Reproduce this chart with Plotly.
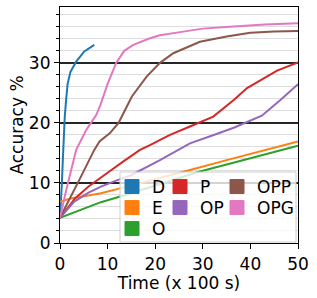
import plotly.graph_objects as go

# ---- data (time in x100 s, accuracy in %) ----
names = ["D", "E", "O", "P", "OP", "OPP", "OPG"]
colors = ["#1f77b4", "#ff7f0e", "#2ca02c", "#d62728", "#9467bd", "#8c564b", "#e377c2"]

D_t = [0, 0.2, 0.4, 0.6, 0.8, 1.0, 1.3, 1.6, 2.2, 3.4, 5.1, 7.2]
D_y = [4.2, 6.5, 10.0, 14.0, 18.0, 21.0, 24.0, 26.5, 28.5, 30.2, 31.9, 33.0]

E_t = [0, 2.45, 6, 8.6, 12.6, 20, 27.3, 35, 42, 50]
E_y = [6.9, 7.45, 7.9, 8.3, 9.1, 10.6, 12.17, 13.8, 15.3, 16.9]

O_t = [0, 6, 8.6, 13.7, 20, 29.4, 40, 50]
O_y = [4.2, 6.05, 6.8, 8.0, 9.6, 11.9, 14.1, 16.2]

P_t = [0, 3.15, 6, 8, 10.5, 13.7, 16.8, 18.9, 23.1, 27.3, 32.2, 36.5, 39.3, 45.6, 50]
P_y = [4.2, 7.4, 9.4, 10.6, 12.0, 13.8, 15.5, 16.3, 18.0, 19.4, 21.05, 23.8, 25.8, 28.7, 30.05]

OP_t = [0, 3, 6, 8.6, 11.5, 14.7, 21, 27.3, 32, 36.5, 42.4, 46.3, 50]
OP_y = [4.2, 6.9, 8.4, 9.4, 10.3, 11.2, 13.8, 16.6, 17.9, 19.2, 21.2, 23.8, 26.45]

OPP_t = [0, 2.0, 4.4, 7.2, 8.3, 10.5, 12.3, 13.7, 15.1, 18.2, 21, 23.8, 29.4, 35, 40, 45, 50]
OPP_y = [4.2, 7.2, 11.05, 15.5, 16.9, 18.3, 20.0, 22.2, 24.4, 27.7, 30.0, 31.6, 33.5, 34.4, 35.0, 35.2, 35.3]

OPG_t = [0, 1.3, 3.4, 5.5, 7.6, 8.5, 10, 11.8, 13.5, 15.4, 18.9, 21, 25.9, 30, 36.5, 43, 50]
OPG_y = [4.2, 8.8, 15.5, 18.8, 21.3, 23.0, 26.5, 30.0, 32.0, 33.0, 34.1, 34.6, 35.2, 35.7, 36.05, 36.4, 36.6]

series_t = [D_t, E_t, O_t, P_t, OP_t, OPP_t, OPG_t]
series_y = [D_y, E_y, O_y, P_y, OP_y, OPP_y, OPG_y]

x_ticks = [0, 10, 20, 30, 40, 50]
y_ticks = [0, 10, 20, 30]

FONT = "DejaVu Sans"
fig = go.Figure()

for n, c, t, y in zip(names, colors, series_t, series_y):
    fig.add_trace(go.Scatter(x=t, y=y, mode="lines", line=dict(color=c, width=2),
                             showlegend=False, hoverinfo="skip", name=n))

W, H = 317, 298
ml, mr, mt, mb = 60, 19, 7, 55
pw, ph = W - ml - mr, H - mt - mb

def px_x(p):
    return (p - ml) / pw

def px_y(p):
    return (H - mb - p) / ph

# legend layout: 3 columns, column-major (one legend per entry for exact placement)
col_left = [112, 160, 217]
row_center = [185, 206, 227]
slots = [(0, 0), (0, 1), (0, 2), (1, 0), (1, 1), (2, 0), (2, 1)]

leg_common = dict(bgcolor="rgba(0,0,0,0)", borderwidth=0,
                  font=dict(family=FONT, size=17, color="black"),
                  xanchor="left", yanchor="top", tracegroupgap=0, itemclick=False,
                  itemdoubleclick=False)

legend_layout = {}
for i, (n, c, (ci, ri)) in enumerate(zip(names, colors, slots)):
    key = "legend" if i == 0 else f"legend{i + 1}"
    fig.add_trace(go.Scatter(x=[None], y=[None], mode="markers", name=n, legend=key,
                             marker=dict(symbol="square", size=14, color=c,
                                         line=dict(color=c, width=1))))
    legend_layout[key] = dict(x=px_x(col_left[ci]), y=px_y(row_center[ri] - 16), **leg_common)

# legend frame
fig.add_shape(type="rect", xref="paper", yref="paper",
              x0=px_x(120), x1=px_x(296), y0=px_y(242), y1=px_y(172),
              fillcolor="rgba(255,255,255,0.8)", line=dict(color="#cccccc", width=1),
              layer="above")

fig.update_layout(
    width=W, height=H, autosize=False,
    margin=dict(l=ml, r=mr, t=mt, b=mb, pad=0),
    paper_bgcolor="white", plot_bgcolor="white",
    font=dict(family=FONT, size=17, color="black"),
    xaxis=dict(range=[0, 50], tickvals=x_ticks, ticktext=[str(v) for v in x_ticks],
               showgrid=False, zeroline=False, showline=True, linecolor="black", linewidth=1.2,
               mirror=True, ticks="outside", ticklen=5, tickwidth=1.2, tickcolor="black",
               tickfont=dict(family=FONT, size=17),
               title=dict(text="Time (x 100 s)", font=dict(family=FONT, size=17), standoff=0)),
    yaxis=dict(range=[0, 39.3], tickvals=y_ticks, ticktext=[str(v) for v in y_ticks],
               showgrid=True, gridcolor="#262626", gridwidth=1.5,
               zeroline=False, showline=True, linecolor="black", linewidth=1.2,
               mirror=True, ticks="outside", ticklen=5, tickwidth=1.2, tickcolor="black",
               tickfont=dict(family=FONT, size=17),
               minor=dict(dtick=2, tick0=0, showgrid=True, gridcolor="#dddddd", gridwidth=1,
                          ticks="outside", ticklen=3, tickcolor="black", tickwidth=1),
               title=dict(text="Accuracy %", font=dict(family=FONT, size=17), standoff=0)),
    **legend_layout,
)

fig.write_html("out.html", config={"displayModeBar": False},
               post_script="document.body.style.margin='0';")
